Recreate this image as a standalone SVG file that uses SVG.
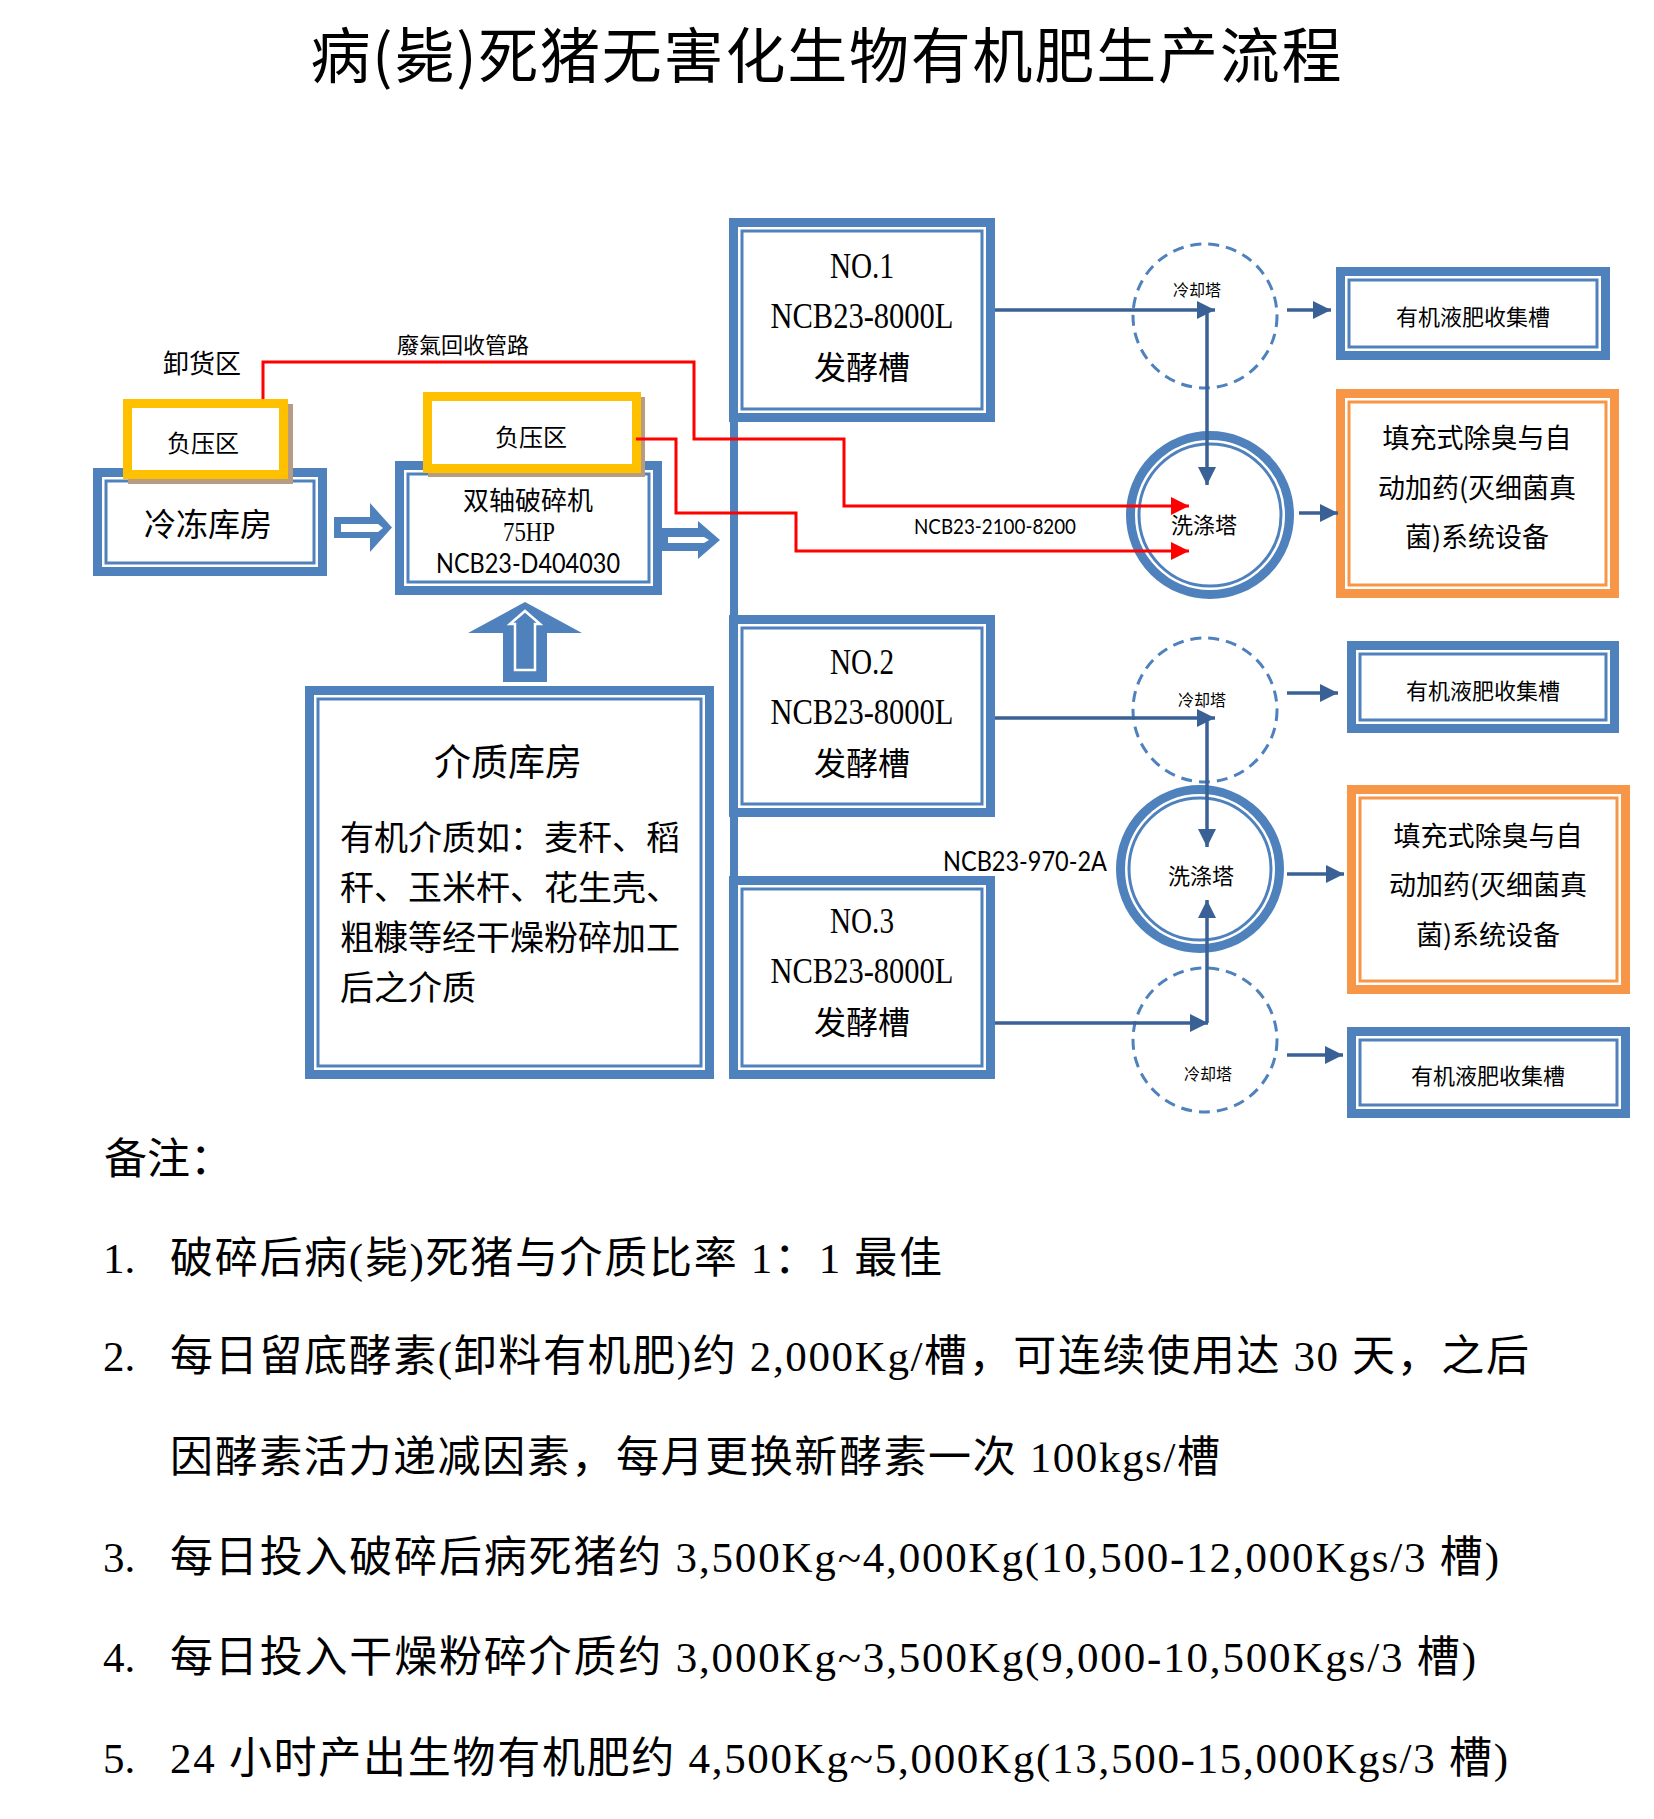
<svg xmlns="http://www.w3.org/2000/svg" width="1654" height="1819" viewBox="0 0 1654 1819">
<style>
.cjk{font-family:"Noto Sans CJK SC",sans-serif;fill:#000}
.ser{font-family:"Liberation Serif","Noto Sans CJK SC",serif;fill:#000}
.cal{font-family:Lato,"Liberation Sans",sans-serif;fill:#000}
.thick{fill:#fff;stroke:#4f81bd;stroke-width:9}
.thin{fill:none;stroke:#4f81bd;stroke-width:3}
.othick{fill:#fff;stroke:#f79646;stroke-width:9}
.othin{fill:none;stroke:#f79646;stroke-width:3}
.ybox{fill:#fff;stroke:#ffc000;stroke-width:9}
.shadow{fill:#b59c82}
.blk{fill:#4f81bd}
.dash{fill:#fff;stroke:#4f81bd;stroke-width:3;stroke-dasharray:11 7}
.red{fill:none;stroke:#ff0000;stroke-width:3}
.con{fill:none;stroke:#3a6195;stroke-width:3.5}
.mid{text-anchor:middle}
</style>
<defs>
<marker id="ar" markerUnits="userSpaceOnUse" markerWidth="18" markerHeight="18" refX="18" refY="9" orient="auto" viewBox="0 0 18 18"><path d="M0,0 L18,9 L0,18 z" fill="#ff0000"/></marker>
<marker id="ab" markerUnits="userSpaceOnUse" markerWidth="18" markerHeight="18" refX="18" refY="9" orient="auto" viewBox="0 0 18 18"><path d="M0,0 L18,9 L0,18 z" fill="#3a6195"/></marker>
</defs>
<rect width="1654" height="1819" fill="#fff"/>

<text id="title" class="cjk mid" x="826" y="78" font-size="60" textLength="1031">病(毙)死猪无害化生物有机肥生产流程</text>

<g id="cold-storage">
<rect class="thick" x="97.5" y="472.5" width="225" height="99"/>
<rect class="thin" x="106" y="481" width="208" height="82"/>
<text class="cjk mid" x="208" y="536" font-size="32">冷冻库房</text>
</g>
<g id="neg-pressure-1">
<text class="cjk mid" x="202" y="373" font-size="26">卸货区</text>
<rect class="shadow" x="128" y="404" width="165" height="80"/>
<rect class="ybox" x="127.5" y="403.5" width="156" height="71"/>
<text class="cjk mid" x="203" y="452" font-size="24">负压区</text>
</g>

<g id="shredder">
<rect class="thick" x="399.5" y="465.5" width="258" height="125"/>
<rect class="thin" x="408" y="474" width="241" height="108"/>
<text class="cjk mid" x="528" y="510" font-size="26">双轴破碎机</text>
<text class="ser mid" x="529" y="541" font-size="27" textLength="52" lengthAdjust="spacingAndGlyphs">75HP</text>
<text class="cal mid" x="528" y="573" font-size="26" textLength="184" lengthAdjust="spacingAndGlyphs">NCB23-D404030</text>
</g>
<g id="neg-pressure-2">
<rect class="shadow" x="428" y="397" width="217" height="80"/>
<rect class="ybox" x="427.5" y="396.5" width="209" height="72"/>
<text class="cjk mid" x="531" y="446" font-size="24">负压区</text>
</g>

<g id="medium-storage">
<rect class="thick" x="309.5" y="690.5" width="400" height="384"/>
<rect class="thin" x="318" y="699" width="383" height="367"/>
<text class="cjk mid" x="508" y="776" font-size="37">介质库房</text>
<text class="cjk" x="340" y="850" font-size="34">有机介质如：麦秆、稻</text>
<text class="cjk" x="340" y="900" font-size="34">秆、玉米杆、花生壳、</text>
<text class="cjk" x="340" y="950" font-size="34">粗糠等经干燥粉碎加工</text>
<text class="cjk" x="340" y="1000" font-size="34">后之介质</text>
</g>

<g id="tank-1">
<rect class="thick" x="733.5" y="222.5" width="257" height="195"/>
<rect class="thin" x="742" y="231" width="240" height="178"/>
<text class="ser mid" x="862" y="278" font-size="36" textLength="64" lengthAdjust="spacingAndGlyphs">NO.1</text>
<text class="ser mid" x="862" y="328" font-size="36" textLength="183" lengthAdjust="spacingAndGlyphs">NCB23-8000L</text>
<text class="cjk mid" x="862" y="379" font-size="32">发酵槽</text>
</g>
<g id="tank-2">
<rect class="thick" x="733.5" y="619.5" width="257" height="193"/>
<rect class="thin" x="742" y="628" width="240" height="176"/>
<text class="ser mid" x="862" y="674" font-size="36" textLength="64" lengthAdjust="spacingAndGlyphs">NO.2</text>
<text class="ser mid" x="862" y="724" font-size="36" textLength="183" lengthAdjust="spacingAndGlyphs">NCB23-8000L</text>
<text class="cjk mid" x="862" y="775" font-size="32">发酵槽</text>
</g>
<g id="tank-3">
<rect class="thick" x="733.5" y="880.5" width="257" height="194"/>
<rect class="thin" x="742" y="889" width="240" height="177"/>
<text class="ser mid" x="862" y="933" font-size="36" textLength="64" lengthAdjust="spacingAndGlyphs">NO.3</text>
<text class="ser mid" x="862" y="983" font-size="36" textLength="183" lengthAdjust="spacingAndGlyphs">NCB23-8000L</text>
<text class="cjk mid" x="862" y="1034" font-size="32">发酵槽</text>
</g>

<g id="cooling-1">
<circle class="dash" cx="1205" cy="316" r="72"/>
<text class="cjk mid" x="1197" y="296" font-size="16">冷却塔</text>
</g>
<g id="cooling-2">
<circle class="dash" cx="1205" cy="710" r="72"/>
<text class="cjk mid" x="1202" y="706" font-size="16">冷却塔</text>
</g>
<g id="cooling-3">
<circle class="dash" cx="1205" cy="1040" r="72"/>
<text class="cjk mid" x="1208" y="1080" font-size="16">冷却塔</text>
</g>

<g id="scrubber-1">
<circle cx="1210" cy="515" r="79.5" fill="#fff" stroke="#4f81bd" stroke-width="9"/>
<circle cx="1210" cy="515" r="71" fill="none" stroke="#4f81bd" stroke-width="3"/>
<text class="cjk mid" x="1204" y="533" font-size="22">洗涤塔</text>
</g>
<g id="scrubber-2">
<circle cx="1200" cy="869" r="79.5" fill="#fff" stroke="#4f81bd" stroke-width="9"/>
<circle cx="1200" cy="869" r="71" fill="none" stroke="#4f81bd" stroke-width="3"/>
<text class="cjk mid" x="1201" y="884" font-size="22">洗涤塔</text>
</g>

<g id="liquid-tank-1">
<rect class="thick" x="1340.5" y="271.5" width="265" height="84"/>
<rect class="thin" x="1349" y="280" width="248" height="67"/>
<text class="cjk mid" x="1473" y="325" font-size="22">有机液肥收集槽</text>
</g>
<g id="liquid-tank-2">
<rect class="thick" x="1351.5" y="645.5" width="263" height="83"/>
<rect class="thin" x="1360" y="654" width="246" height="66"/>
<text class="cjk mid" x="1483" y="699" font-size="22">有机液肥收集槽</text>
</g>
<g id="liquid-tank-3">
<rect class="thick" x="1351.5" y="1031.5" width="274" height="82"/>
<rect class="thin" x="1360" y="1040" width="257" height="65"/>
<text class="cjk mid" x="1488" y="1084" font-size="22">有机液肥收集槽</text>
</g>

<g id="deodorizer-1">
<rect class="othick" x="1340.5" y="393.5" width="274" height="200"/>
<rect class="othin" x="1349" y="402" width="257" height="183"/>
<text class="cjk mid" x="1477" y="448" font-size="27">填充式除臭与自</text>
<text class="cjk mid" x="1477" y="498" font-size="27">动加药(灭细菌真</text>
<text class="cjk mid" x="1477" y="547" font-size="27">菌)系统设备</text>
</g>
<g id="deodorizer-2">
<rect class="othick" x="1351.5" y="789.5" width="274" height="200"/>
<rect class="othin" x="1360" y="798" width="257" height="183"/>
<text class="cjk mid" x="1488" y="846" font-size="27">填充式除臭与自</text>
<text class="cjk mid" x="1488" y="895" font-size="27">动加药(灭细菌真</text>
<text class="cjk mid" x="1488" y="945" font-size="27">菌)系统设备</text>
</g>

<g id="connectors">
<rect class="blk" x="730" y="420" width="8" height="458"/>
<polygon class="blk" points="334,517 370,517 370,503 392,527.5 370,552 370,538 334,538"/>
<polygon fill="#fff" points="341,524 378,524 383,528 378,532 341,532"/>
<polygon class="blk" points="662,528 698,528 698,521 720,540 698,559 698,551 662,551"/>
<polygon fill="#fff" points="668,537 704,537 709,540 704,543 668,543"/>
<polygon class="blk" points="503,682 503,633 468,633 525,602 582,633 547,633 547,682"/>
<polygon fill="none" stroke="#fff" stroke-width="2.5" points="515,670 515,624 510,624 525,611 540,624 535,624 535,670"/>

<polyline class="con" points="995,310 1215,310" marker-end="url(#ab)"/>
<polyline class="con" points="1207,310 1207,485" marker-end="url(#ab)"/>
<polyline class="con" points="995,718 1215,718" marker-end="url(#ab)"/>
<polyline class="con" points="1207,718 1207,847" marker-end="url(#ab)"/>
<polyline class="con" points="995,1023 1208,1023" marker-end="url(#ab)"/>
<polyline class="con" points="1207,1023 1207,900" marker-end="url(#ab)"/>
<polyline class="con" points="1287,310 1331,310" marker-end="url(#ab)"/>
<polyline class="con" points="1299,513 1338,513" marker-end="url(#ab)"/>
<polyline class="con" points="1287,693 1338,693" marker-end="url(#ab)"/>
<polyline class="con" points="1287,874 1344,874" marker-end="url(#ab)"/>
<polyline class="con" points="1287,1055 1343,1055" marker-end="url(#ab)"/>

<polyline class="red" points="263,399 263,362 694,362 694,439 844,439 844,506 1189,506" marker-end="url(#ar)"/>
<polyline class="red" points="636,439 676,439 676,513 796,513 796,551 1189,551" marker-end="url(#ar)"/>
<text class="cjk mid" x="463" y="353" font-size="22">廢氣回收管路</text>
<text class="cal mid" x="995" y="534" font-size="22" textLength="162" lengthAdjust="spacingAndGlyphs">NCB23-2100-8200</text>
<text class="cal mid" x="1025" y="871" font-size="27" textLength="164" lengthAdjust="spacingAndGlyphs">NCB23-970-2A</text>
</g>

<g id="notes">
<text class="cjk" x="104" y="1174" font-size="43">备注：</text>
<text class="ser" x="103" y="1273" font-size="43">1.</text>
<text class="ser" x="170" y="1273" font-size="43" textLength="772">破碎后病(毙)死猪与介质比率 1：1 最佳</text>
<text class="ser" x="103" y="1371" font-size="43">2.</text>
<text class="ser" x="170" y="1371" font-size="43" textLength="1359">每日留底酵素(卸料有机肥)约 2,000Kg/槽，可连续使用达 30 天，之后</text>
<text class="ser" x="170" y="1472" font-size="43" textLength="1050">因酵素活力递减因素，每月更换新酵素一次 100kgs/槽</text>
<text class="ser" x="103" y="1572" font-size="43">3.</text>
<text class="ser" x="170" y="1572" font-size="43" textLength="1329">每日投入破碎后病死猪约 3,500Kg~4,000Kg(10,500-12,000Kgs/3 槽)</text>
<text class="ser" x="103" y="1672" font-size="43">4.</text>
<text class="ser" x="170" y="1672" font-size="43" textLength="1306">每日投入干燥粉碎介质约 3,000Kg~3,500Kg(9,000-10,500Kgs/3 槽)</text>
<text class="ser" x="103" y="1773" font-size="43">5.</text>
<text class="ser" x="170" y="1773" font-size="43" textLength="1338">24 小时产出生物有机肥约 4,500Kg~5,000Kg(13,500-15,000Kgs/3 槽)</text>
</g>
</svg>
